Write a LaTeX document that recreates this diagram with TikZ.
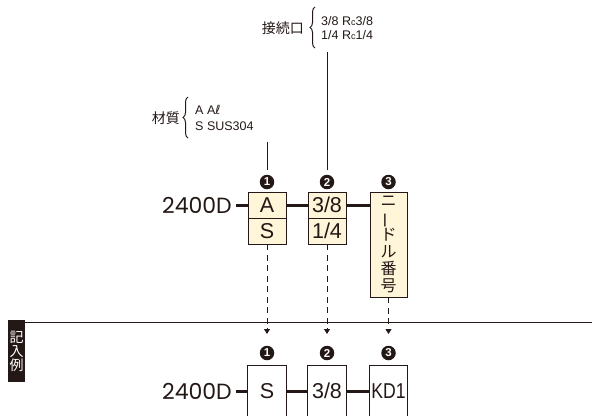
\documentclass[tikz,border=0pt]{standalone}
\usepackage{fontspec}
\setmainfont{Liberation Sans}
\newfontfamily\jp{Noto Sans CJK JP}
\newfontfamily\geo{Poppins}
\newfontfamily\dvs{DejaVu Sans}
\usetikzlibrary{arrows.meta,decorations.pathreplacing}
\definecolor{ink}{HTML}{231815}
\definecolor{cream}{HTML}{FFF5D9}
\begin{document}
\begin{tikzpicture}[x=1pt,y=-1pt,
  cell/.style={draw=ink, line width=0.8pt, fill=cream, minimum width=38pt, minimum height=26pt, inner sep=0pt, text=ink, font=\fontsize{21.5}{21.5}\selectfont},
  opencell/.style={minimum width=38pt, minimum height=50pt, inner sep=0pt, text=ink, font=\fontsize{21.5}{21.5}\selectfont},
  bubble/.style={circle, fill=ink, minimum size=14.5pt, inner sep=0pt, text=white, font=\bfseries\fontsize{11.5}{11.5}\selectfont},
  link/.style={line width=3pt, draw=ink},
  dashlink/.style={draw=ink, line width=0.9pt, dash pattern=on 6pt off 4.5pt, -{Triangle[length=5pt,width=6pt]}},
  lead/.style={draw=ink, line width=0.9pt},
  model/.style={font=\geo\fontsize{22}{22}\selectfont, text=ink, inner sep=0pt, anchor=east},
  small/.style={font=\fontsize{12.5}{12.5}\selectfont, text=ink, inner sep=0pt, anchor=west},
  jlabel/.style={font=\jp\fontsize{14}{14}\selectfont, text=ink, inner sep=0pt, anchor=east},
  bracestyle/.style={lead, line width=1pt, decorate, decoration={brace, amplitude=5pt}}
]
\useasboundingbox (0,0) rectangle (592,416);
\clip (0,0) rectangle (592,416);

% top legend
\node[jlabel] (kl) at (304,28) {接続口};
\draw[bracestyle] (315,48) -- (315,7);
\node[small] (k1) at (321,21) {3/8 R{\fontsize{9}{9}\selectfont c}3/8};
\node[small] (k2) at (321,35) {1/4 R{\fontsize{9}{9}\selectfont c}1/4};
\coordinate (t2) at (327,52);

\node[jlabel] (zl) at (180,118) {材質};
\draw[bracestyle] (188,138) -- (188,97);
\node[small] (z1) at (195,110) {A A{\dvs ℓ}};
\node[small] (z2) at (195,126) {S SUS304};
\coordinate (t1) at (267,142);

% top row
\node[bubble] (c1) at (267,182) {1};
\node[bubble] (c2) at (327,182) {2};
\node[bubble] (c3) at (388.5,182) {3};
\draw[lead, shorten >=5pt] (t1) -- (c1.north);
\draw[lead, shorten >=5pt] (t2) -- (c2.north);

\node[model] (m1) at (232,205) {2400D};
\node[cell] (a1) at (267,205) {A};
\node[cell] (s1) at (267,231) {S};
\node[cell] (a2) at (327,205) {3/8};
\node[cell] (s2) at (327,231) {1/4};
\node[cell, minimum width=37pt, minimum height=105pt, font=\jp\fontsize{16}{17}\selectfont, align=center] (n3) at (388.5,244.5)
  {ニ\\\rotatebox[origin=c]{90}{ー}\\ド\\ル\\番\\号};
\draw[link, shorten <=4pt] (m1.east) -- (a1.west);
\draw[link] (a1.east) -- (a2.west);
\draw[link] (a2.east) -- (a2.east -| n3.west);

% separator
\coordinate (sl) at (25,322);
\coordinate (sr) at (592,322);
\draw[draw=ink, line width=0.9pt] (sl) -- (sr);
\node[fill=ink, minimum width=17pt, minimum height=62pt, inner sep=0pt, anchor=north west, text=white,
  font=\jp\fontsize{14}{14}\selectfont, align=center] (ex) at (8,320) {記\\入\\例};

% arrows
\coordinate (e1) at (267,334);
\coordinate (e2) at (327,334);
\coordinate (e3) at (388.5,334);
\draw[dashlink] (s1.south) -- (e1);
\draw[dashlink] (s2.south) -- (e2);
\draw[dashlink] (n3.south) -- (e3);

% bottom row
\node[bubble] (c4) at (267,353) {1};
\node[bubble] (c5) at (327,353) {2};
\node[bubble] (c6) at (388.5,353) {3};
\node[model] (m2) at (232,391) {2400D};
\node[opencell] (b1) at (267,391) {S};
\node[opencell] (b2) at (327,391) {3/8};
\node[opencell, minimum width=37pt] (b3) at (388.5,391) {\scalebox{0.82}[1]{KD1}};
\foreach \b in {b1,b2,b3}
  \draw[draw=ink, line width=0.8pt] (\b.south west) -- (\b.north west) -- (\b.north east) -- (\b.south east);
\draw[link, shorten <=4pt] (m2.east) -- (b1.west);
\draw[link] (b1.east) -- (b2.west);
\draw[link] (b2.east) -- (b3.west);
\end{tikzpicture}
\end{document}
